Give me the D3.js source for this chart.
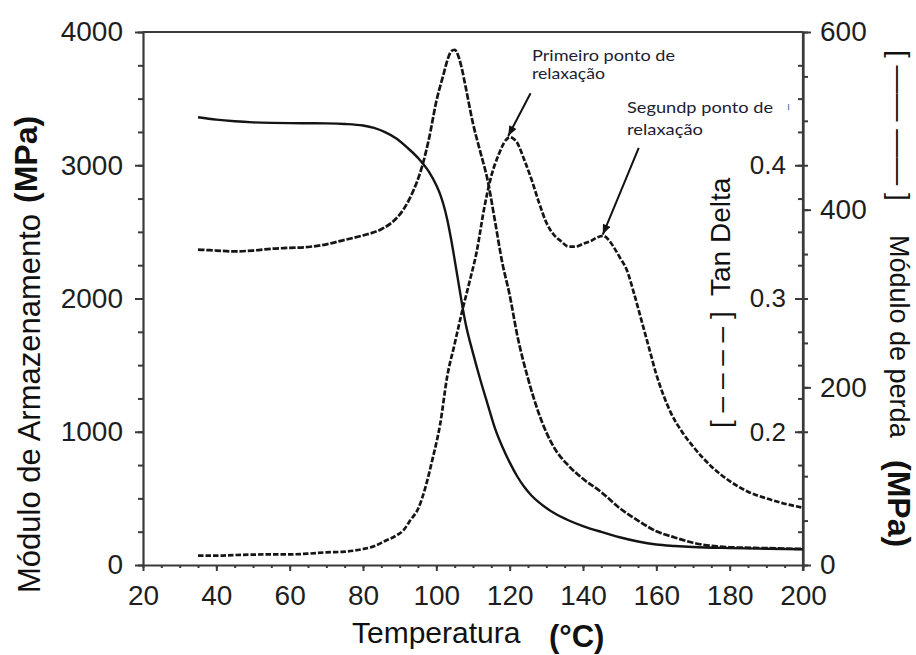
<!DOCTYPE html>
<html>
<head>
<meta charset="utf-8">
<script src="https://cdn.jsdelivr.net/npm/d3@7"></script>
<style>
  html, body { margin: 0; padding: 0; background: #fff; }
  svg { display: block; }
  text { font-family: "Liberation Sans", Arial, sans-serif; }
</style>
</head>
<body>
<svg id="chart" width="916" height="655"></svg>
<script>
// Temperature sweep (°C) and measured series
const storageT = [35,40,45,50,55,60,65,70,75,80,83,86,89,92,95,98,100,101,102,103,104,105,106,107,108,110,112,114,116,118,120,122,124,126,128,130,132,136,140,145,150,155,160,165,170,180,190,200];
const storageModulus = [3360,3342,3330,3322,3318,3316,3315,3314,3310,3298,3280,3248,3202,3134,3055,2950,2850,2785,2700,2590,2450,2290,2125,1960,1810,1590,1390,1206,1025,887,770,668,585,520,470,428,392,336,292,248,208,176,154,143,135,127,122,118];

const lossT = [35,40,45,50,55,60,65,70,75,80,85,88,91,94,96,98,100,102,103,104,105,106,107,108,110,112,114,116,118,120,122,125,128,132,136,140,145,150,155,160,165,170,180,190,200];
const lossModulus = [355,354,353,354,356,357,358,361,366,371,378,386,400,424,447,480,522,553,568,578,580,573,558,538,497,465,433,387,340,304,260,210,170,133,112,97,82,64,50,38,31,25,20,19,18];

const tanT = [35,40,45,50,55,60,65,70,75,80,83,86,89,91,93,95,97,99,101,103,105,107,109,111,113,115,117,119,120,121,122,124,126,128,130,132,134,136,138,140,142,144,145.5,147,148.5,150,152,154,156,158,160,162,164,167,170,175,180,185,190,195,200];
const tanDelta = [0.107,0.107,0.1075,0.1078,0.108,0.108,0.1085,0.1095,0.110,0.112,0.114,0.118,0.122,0.126,0.134,0.142,0.158,0.180,0.205,0.242,0.266,0.290,0.312,0.335,0.367,0.392,0.408,0.419,0.421,0.420,0.417,0.404,0.389,0.372,0.357,0.348,0.343,0.339,0.339,0.341,0.343,0.346,0.347,0.344,0.338,0.331,0.321,0.303,0.283,0.263,0.243,0.227,0.214,0.200,0.189,0.174,0.163,0.155,0.150,0.146,0.143];

// Axis ticks
const xTicks = [20,40,60,80,100,120,140,160,180,200];
const storageTicks = [0,1000,2000,3000,4000];
const tanTicks = [0.2,0.3,0.4];
const lossTicks = [0,200,400,600];

// Relaxation annotations: label lines, arrow tail and tip as (T, tan delta)
const annotations = [
  { lines: ["Primeiro ponto de", "relaxação"], tail: [125.7, 0.454], tip: [119.6, 0.422] },
  { lines: ["Segundp ponto de", "relaxação"], tail: [155.2, 0.413], tip: [145.4, 0.348] }
];

const svg = d3.select("#chart");
const plotLeft = 143, plotRight = 803, plotTop = 32, plotBottom = 565;

const x = d3.scaleLinear().domain([20, 200]).range([plotLeft, plotRight]);
const yStorage = d3.scaleLinear().domain([0, 4000]).range([plotBottom, plotTop]);
const yTan = d3.scaleLinear().domain([0.1, 0.5]).range([plotBottom, plotTop]);
const yLoss = d3.scaleLinear().domain([0, 600]).range([plotBottom, plotTop]);

const axisColor = "#3a3a3a";
function styleAxis(g, size) {
  g.selectAll(".domain").attr("stroke", axisColor).attr("stroke-width", 2.2);
  g.selectAll(".tick line").attr("stroke", axisColor).attr("stroke-width", 2);
  g.selectAll(".tick text").attr("fill", "#1e1e1e").style("font-size", size + "px")
    .style("font-family", "'Liberation Sans', Arial, sans-serif");
}

// top frame line
svg.append("line").attr("x1", plotLeft).attr("x2", plotRight).attr("y1", plotTop).attr("y2", plotTop)
  .attr("stroke", axisColor).attr("stroke-width", 2.2);

// bottom axis: minor + major
svg.append("g").attr("transform", `translate(0,${plotBottom})`)
  .call(d3.axisBottom(x).tickValues(d3.range(20, 201, 5)).tickSize(3).tickFormat(""))
  .call(g => { styleAxis(g, 0); g.select(".domain").remove(); });
svg.append("g").attr("transform", `translate(0,${plotBottom})`)
  .call(d3.axisBottom(x).tickValues(xTicks).tickSize(6).tickSizeOuter(0).tickPadding(14).tickFormat(d3.format("d")))
  .call(g => styleAxis(g, 28));

// left axis: storage modulus
svg.append("g").attr("transform", `translate(${plotLeft},0)`)
  .call(d3.axisLeft(yStorage).tickValues(d3.range(0, 4001, 250)).tickSize(5).tickFormat(""))
  .call(g => { styleAxis(g, 0); g.select(".domain").remove(); });
svg.append("g").attr("transform", `translate(${plotLeft},0)`)
  .call(d3.axisLeft(yStorage).tickValues(storageTicks).tickSize(8).tickSizeOuter(0).tickPadding(12).tickFormat(d3.format("d")))
  .call(g => styleAxis(g, 28));

// right side: tan delta ticks pointing inward
svg.append("g").attr("transform", `translate(${plotRight},0)`)
  .call(d3.axisLeft(yTan).tickValues(d3.range(0.125, 0.5, 0.025)).tickSize(5).tickFormat(""))
  .call(g => { styleAxis(g, 0); g.select(".domain").remove(); });
svg.append("g").attr("transform", `translate(${plotRight},0)`)
  .call(d3.axisLeft(yTan).tickValues(tanTicks).tickSize(8).tickSizeOuter(0).tickPadding(9).tickFormat(d3.format(".1f")))
  .call(g => { styleAxis(g, 26); g.select(".domain").remove(); });

// right side: loss modulus ticks pointing outward
svg.append("g").attr("transform", `translate(${plotRight},0)`)
  .call(d3.axisRight(yLoss).tickValues(d3.range(0, 601, 50)).tickSize(5).tickFormat(""))
  .call(g => { styleAxis(g, 0); g.select(".domain").remove(); });
svg.append("g").attr("transform", `translate(${plotRight},0)`)
  .call(d3.axisRight(yLoss).tickValues(lossTicks).tickSize(8).tickSizeOuter(0).tickPadding(9).tickFormat(d3.format("d")))
  .call(g => styleAxis(g, 28));
// extend right axis slightly below the frame
svg.append("line").attr("x1", plotRight).attr("x2", plotRight).attr("y1", plotTop).attr("y2", plotBottom + 6)
  .attr("stroke", axisColor).attr("stroke-width", 2.2);

// curves
const lineStorage = d3.line().x((d, i) => x(storageT[i])).y(d => yStorage(d)).curve(d3.curveMonotoneX);
const lineLoss = d3.line().x((d, i) => x(lossT[i])).y(d => yLoss(d)).curve(d3.curveMonotoneX);
const lineTan = d3.line().x((d, i) => x(tanT[i])).y(d => yTan(d)).curve(d3.curveMonotoneX);

svg.append("path").datum(storageModulus).attr("d", lineStorage)
  .attr("fill", "none").attr("stroke", "#141414").attr("stroke-width", 2.4);
svg.append("path").datum(lossModulus).attr("d", lineLoss)
  .attr("fill", "none").attr("stroke", "#151515").attr("stroke-width", 2.7)
  .attr("stroke-dasharray", "6.5,1.8");
svg.append("path").datum(tanDelta).attr("d", lineTan)
  .attr("fill", "none").attr("stroke", "#151515").attr("stroke-width", 2.7)
  .attr("stroke-dasharray", "5.5,2");

// axis titles
const leftTitle = svg.append("g");
leftTitle.append("text").attr("transform", "translate(40,593) rotate(-90)")
  .style("font-size", "31px").attr("fill", "#111").text("Módulo de Armazenamento");
leftTitle.append("text").attr("transform", "translate(37,203) rotate(-90)")
  .style("font-size", "32px").style("font-weight", "bold").attr("fill", "#111").text("(MPa)");

svg.append("text").attr("x", 352).attr("y", 643)
  .style("font-size", "30px").attr("fill", "#111").text("Temperatura");
svg.append("text").attr("x", 549).attr("y", 647)
  .style("font-size", "31px").style("font-weight", "bold").attr("fill", "#111").text("(°C)");

// tan delta label with dashed key
svg.append("text").attr("transform", "translate(730,428) rotate(-90)")
  .style("font-size", "28px").attr("fill", "#111").text("[ – – – – ]");
svg.append("text").attr("transform", "translate(730,296) rotate(-90)")
  .style("font-size", "28px").attr("fill", "#111").text("Tan Delta");

// loss modulus label with long-dash key
svg.append("text").attr("transform", "translate(890,50) rotate(90)")
  .style("font-size", "28px").attr("fill", "#111").text("[ —— —— ]");
svg.append("text").attr("transform", "translate(890,235) rotate(90)")
  .style("font-size", "27px").attr("fill", "#111").text("Módulo de perda");
svg.append("text").attr("transform", "translate(888,460) rotate(90)")
  .style("font-size", "32px").style("font-weight", "bold").attr("fill", "#111").text("(MPa)");

// annotations
const defs = svg.append("defs");
defs.append("marker").attr("id", "arrowhead")
  .attr("viewBox", "0 0 10 8").attr("refX", 10).attr("refY", 4)
  .attr("markerWidth", 11).attr("markerHeight", 8).attr("markerUnits", "userSpaceOnUse")
  .attr("orient", "auto")
  .append("path").attr("d", "M0,0 L10,4 L0,8 Z").attr("fill", "#111");

const labelPos = [
  { x: 532, y: 61, dy: 18, widths: [143, 73] },
  { x: 627, y: 113, dy: 22, widths: [146, 76] }
];
annotations.forEach((a, i) => {
  const p = labelPos[i];
  a.lines.forEach((t, j) => {
    svg.append("text").attr("x", p.x).attr("y", p.y + j * p.dy)
      .attr("textLength", p.widths[j]).attr("lengthAdjust", "spacingAndGlyphs")
      .style("font-family", "Lato, 'Open Sans', sans-serif").style("font-size", "16px")
      .attr("fill", "#1c1c34").text(t);
  });
  svg.append("line")
    .attr("x1", x(a.tail[0])).attr("y1", yTan(a.tail[1]))
    .attr("x2", x(a.tip[0])).attr("y2", yTan(a.tip[1]))
    .attr("stroke", "#111").attr("stroke-width", 2)
    .attr("marker-end", "url(#arrowhead)");
});

// small stray mark near the second label
svg.append("text").attr("x", 787).attr("y", 110)
  .style("font-size", "11px").attr("fill", "#5a6890").text("ı");
</script>
</body>
</html>
